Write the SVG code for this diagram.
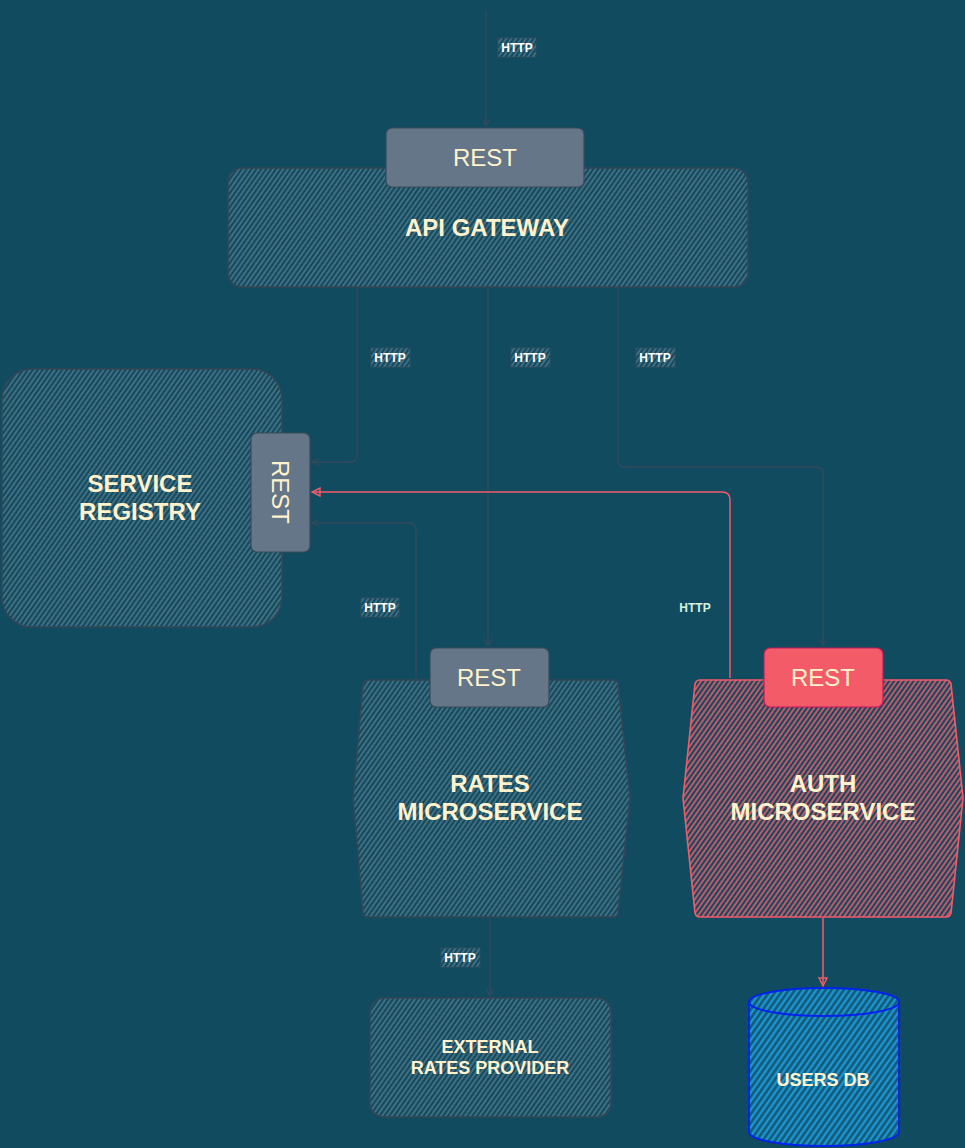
<svg xmlns="http://www.w3.org/2000/svg" width="965" height="1148" viewBox="0 0 965 1148">
<style>
.t{font-family:"Liberation Sans",Arial,sans-serif;fill:#FFF2CC;text-anchor:middle;}
.rest{font-size:24px;}
.big{font-size:24px;font-weight:bold;}
.mid{font-size:18px;font-weight:bold;}
.lbl{font-family:"Liberation Sans",Arial,sans-serif;font-size:12px;font-weight:bold;fill:#FFFFFF;text-anchor:middle;}
.conn{fill:none;stroke:#364A5C;stroke-width:1.3;}
.red{fill:none;stroke:#F45B69;stroke-width:1.5;}
.dk{fill:url(#hd);stroke:#344656;stroke-width:1.6;}
.lb{fill:url(#hd);stroke:#3A5061;stroke-width:1;stroke-dasharray:2 1;}
</style>
<defs>
<pattern id="hd" width="4" height="4" patternUnits="userSpaceOnUse" patternTransform="rotate(35)">
<rect width="4" height="4" fill="#114B5F"/>
<line x1="1" y1="0" x2="1" y2="4" stroke="#5E7F90" stroke-width="1.3"/>
</pattern>
<pattern id="hr" width="4" height="4" patternUnits="userSpaceOnUse" patternTransform="rotate(35)">
<rect width="4" height="4" fill="#114B5F"/>
<line x1="1" y1="0" x2="1" y2="4" stroke="#EE5A6B" stroke-width="1.6"/>
</pattern>
<pattern id="hb" width="5" height="5" patternUnits="userSpaceOnUse" patternTransform="rotate(35)">
<rect width="5" height="5" fill="#145A78"/>
<line x1="1.5" y1="0" x2="1.5" y2="5" stroke="#1BA1E2" stroke-width="2"/>
</pattern>
<marker id="ag" viewBox="0 0 10 10" refX="9" refY="5" markerWidth="9" markerHeight="9" markerUnits="userSpaceOnUse" orient="auto">
<path d="M1,1 L9,5 L1,9" fill="none" stroke="#364A5C" stroke-width="1.3"/>
</marker>
<marker id="ar" viewBox="0 0 10 10" refX="9" refY="5" markerWidth="10" markerHeight="10" markerUnits="userSpaceOnUse" orient="auto">
<path d="M1,1 L9,5 L1,9 Z" fill="none" stroke="#F45B69" stroke-width="1.4"/>
</marker>
</defs>
<rect width="965" height="1148" fill="#114B5F"/>

<g id="connectors">
<path class="conn" d="M486,10 L486,126" marker-end="url(#ag)"/>
<path class="conn" d="M357,288 L357,455 Q357,462 350,462 L312,462" marker-end="url(#ag)"/>
<path class="conn" d="M488,288 L488,646" marker-end="url(#ag)"/>
<path class="conn" d="M618,288 L618,460 Q618,467 625,467 L816,467 Q823,467 823,474 L823,646" marker-end="url(#ag)"/>
<path class="conn" d="M416,678 L416,530 Q416,523 409,523 L312,523" marker-end="url(#ag)"/>
<path class="red" d="M730,678 L730,500 Q730,492 722,492 L312,492" marker-end="url(#ar)"/>
<path class="conn" d="M490,918 L490,996" marker-end="url(#ag)"/>
<path class="red" d="M823,918 L823,986" marker-end="url(#ar)"/>
<g id="labels">
<rect class="lb" x="498" y="38" width="38" height="19"/>
<text class="lbl" x="517" y="52">HTTP</text>
<rect class="lb" x="371" y="348" width="39" height="19"/>
<text class="lbl" x="390" y="362">HTTP</text>
<rect class="lb" x="511" y="348" width="39" height="19"/>
<text class="lbl" x="530" y="362">HTTP</text>
<rect class="lb" x="636" y="348" width="39" height="19"/>
<text class="lbl" x="655" y="362">HTTP</text>
<rect class="lb" x="361" y="598" width="38" height="19"/>
<text class="lbl" x="380" y="612">HTTP</text>
<text class="lbl" x="695" y="612" style="fill:#D8F0DF">HTTP</text>
<rect class="lb" x="441" y="948" width="39" height="19"/>
<text class="lbl" x="460" y="962">HTTP</text>
</g>
</g>

<g id="api-gateway">
<rect class="dk" x="228" y="168" width="520" height="119" rx="14"/>
<text class="t big" x="487" y="236">API GATEWAY</text>
</g>
<g id="api-rest">
<rect x="386" y="128" width="198" height="59" rx="6" fill="#647687" stroke="#3A4A5A" stroke-width="1.2"/>
<text class="t rest" x="485" y="166">REST</text>
</g>

<g id="service-registry">
<rect class="dk" x="2" y="369" width="280" height="258" rx="30"/>
<text class="t big" x="140" y="492">SERVICE</text>
<text class="t big" x="140" y="520">REGISTRY</text>
</g>
<g id="registry-rest">
<rect x="251" y="433" width="59" height="119" rx="6" fill="#647687" stroke="#3A4A5A" stroke-width="1.2"/>
<text class="t rest" transform="translate(272,492) rotate(90)" x="0" y="0">REST</text>
</g>

<g id="rates-microservice">
<path class="dk" d="M368,680 L613,680 Q617,680 618,684 L630,798 L618,913 Q617,917 613,917 L368,917 Q364,917 363,913 L353,798 L363,684 Q364,680 368,680 Z"/>
<text class="t big" x="490" y="792">RATES</text>
<text class="t big" x="490" y="820">MICROSERVICE</text>
</g>
<g id="rates-rest">
<rect x="430" y="648" width="119" height="59" rx="6" fill="#647687" stroke="#3A4A5A" stroke-width="1.2"/>
<text class="t rest" x="489" y="686">REST</text>
</g>

<g id="auth-microservice">
<path d="M700,680 L946,680 Q950,680 951,684 L963,798 L951,913 Q950,917 946,917 L700,917 Q696,917 695,913 L683,798 L695,684 Q696,680 700,680 Z" fill="url(#hr)" stroke="#F45B69" stroke-width="1.6"/>
<text class="t big" x="823" y="792">AUTH</text>
<text class="t big" x="823" y="820">MICROSERVICE</text>
</g>
<g id="auth-rest">
<rect x="764" y="648" width="119" height="59" rx="6" fill="#F45B69" stroke="#C2185B" stroke-width="1.2"/>
<text class="t rest" x="823" y="686">REST</text>
</g>

<g id="external-rates-provider">
<rect class="dk" x="370" y="998" width="241" height="119" rx="14"/>
<text class="t mid" x="490" y="1053">EXTERNAL</text>
<text class="t mid" x="490" y="1074">RATES PROVIDER</text>
</g>

<g id="users-db">
<path d="M749,1002 L749,1132 A75,14 0 0 0 899,1132 L899,1002 A75,14 0 0 0 749,1002 Z" fill="url(#hb)" stroke="#0022EE" stroke-width="2"/>
<path d="M749,1002 A75,14 0 0 0 899,1002" fill="none" stroke="#0022EE" stroke-width="2"/>
<text class="t mid" x="823" y="1086">USERS DB</text>
</g>
</svg>
